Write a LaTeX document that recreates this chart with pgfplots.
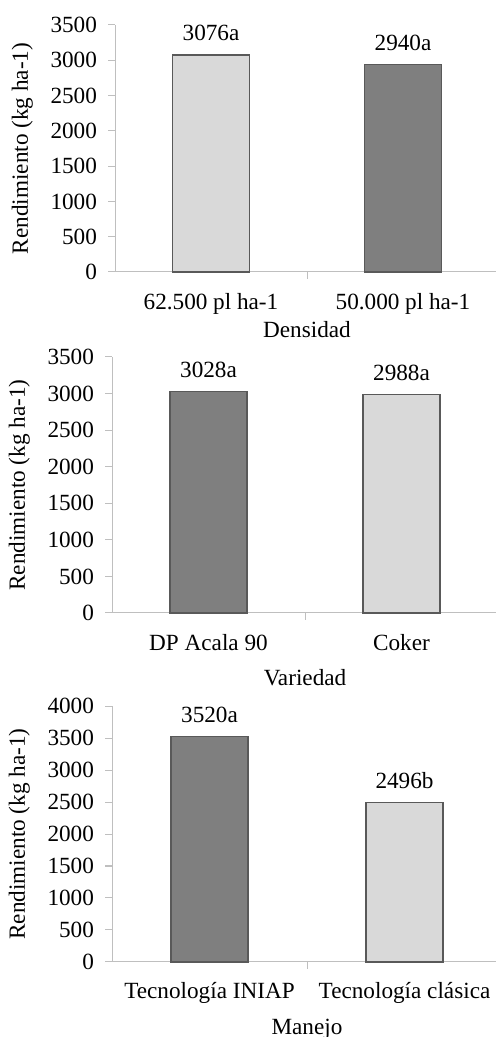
\documentclass[border=0pt]{standalone}
\usepackage{fontspec}
\setmainfont{Liberation Serif}
\usepackage{pgfplots}
\pgfplotsset{compat=1.18}

\definecolor{barlight}{HTML}{D9D9D9}
\definecolor{bardark}{HTML}{7F7F7F}
\definecolor{baredge}{HTML}{595959}
\definecolor{axisgray}{HTML}{BFBFBF}
\newcommand\fs{\fontsize{11.6}{13.9}\selectfont}

\pgfplotsset{
  panel/.style={
    scale only axis, anchor=south west,
    ybar, bar width=38.5pt, bar shift=0pt,
    axis lines=left,
    axis line style={-, draw=axisgray, line width=0.5pt},
    ymin=0, xmin=-0.5, xmax=1.5, clip=false,
    tick align=outside, major tick length=3.5pt,
    tick style={draw=axisgray, line width=0.5pt},
    xtick={0.5}, xticklabels={},
    extra x tick style={major tick length=0pt},
    tick label style={font=\fs},
    xticklabel style={anchor=base},
    yticklabel style={xshift=-2pt},
    label style={font=\fs},
    /pgf/number format/assume math mode=true,
    /pgf/number format/1000 sep={},
    ylabel={Rendimiento (kg ha-1)}, ylabel shift=2pt,
    xlabel style={at={(axis description cs:0.5,0)}, anchor=base},
    nodes near coords, point meta=explicit symbolic,
    every node near coord/.append style={font=\fs, anchor=base, yshift=7pt, text=black},
  },
}

\begin{document}
\begin{tikzpicture}
\path[use as bounding box] (0,0) rectangle (247.5pt,518.5pt);

% Densidad
\begin{axis}[panel, at={(57.5pt,382.5pt)}, width=192pt, height=123.5pt,
  ymax=3500, ytick={0,500,...,3500},
  extra x ticks={0,1}, extra x tick labels={62.500 pl ha-1, 50.000 pl ha-1},
  xticklabel style={yshift=-19pt},
  xlabel={Densidad}, xlabel style={yshift=-33pt}]
\addplot[fill=barlight, draw=baredge, line width=0.6pt] coordinates {(0,3076) [3076a]};
\addplot[fill=bardark, draw=baredge, line width=0.6pt] coordinates {(1,2940) [2940a]};
\end{axis}

% Variedad
\begin{axis}[panel, at={(56pt,212pt)}, width=193pt, height=128pt,
  ymax=3500, ytick={0,500,...,3500},
  extra x ticks={0,1}, extra x tick labels={DP Acala 90, Coker},
  xticklabel style={yshift=-19pt},
  xlabel={Variedad}, xlabel style={yshift=-36.5pt}]
\addplot[fill=bardark, draw=baredge, line width=0.6pt] coordinates {(0,3028) [3028a]};
\addplot[fill=barlight, draw=baredge, line width=0.6pt] coordinates {(1,2988) [2988a]};
\end{axis}

% Manejo
\begin{axis}[panel, at={(56pt,37.5pt)}, width=195pt, height=128pt,
  ymax=4000, ytick={0,500,...,4000},
  extra x ticks={0,1}, extra x tick labels={Tecnología INIAP, Tecnología clásica},
  xticklabel style={yshift=-18.5pt},
  xlabel={Manejo}, xlabel style={yshift=-36pt}]
\addplot[fill=bardark, draw=baredge, line width=0.6pt] coordinates {(0,3520) [3520a]};
\addplot[fill=barlight, draw=baredge, line width=0.6pt] coordinates {(1,2496) [2496b]};
\end{axis}
\end{tikzpicture}
\end{document}
